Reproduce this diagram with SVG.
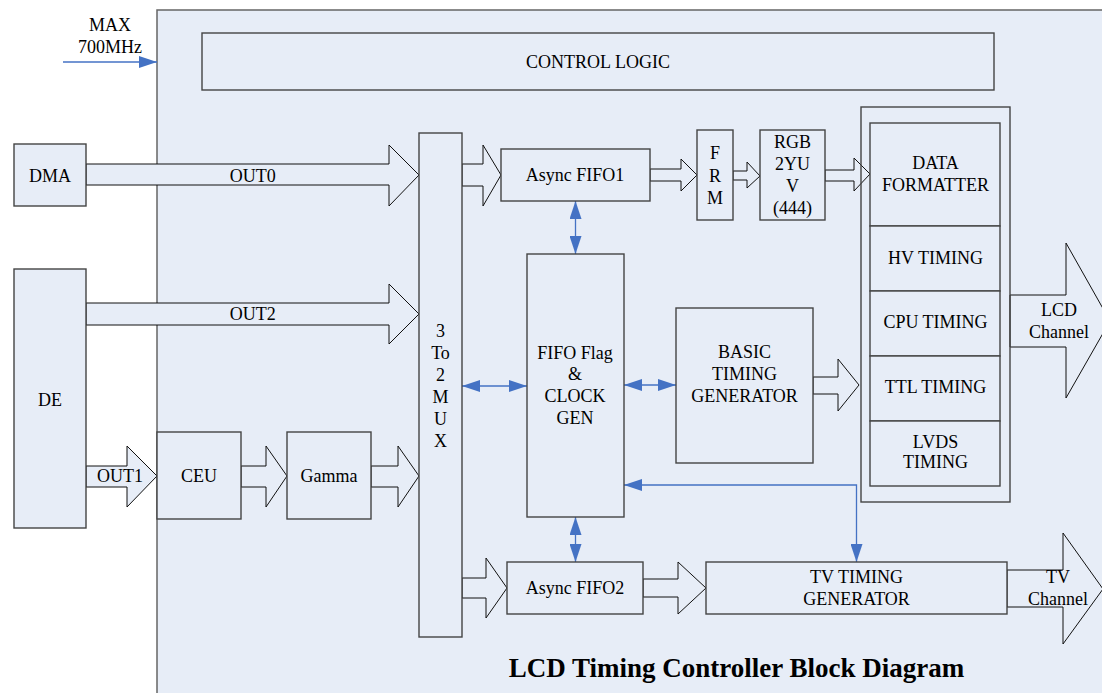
<svg xmlns="http://www.w3.org/2000/svg" width="1102" height="693" viewBox="0 0 1102 693">
<defs>
<style>
.bg{fill:#E7EDF7;stroke:#666;stroke-width:1.5}
.box{fill:#E7EDF7;stroke:#444;stroke-width:1.4}
.frame{fill:none;stroke:#444;stroke-width:1.4}
.ba{fill:#E7EDF7;stroke:#111;stroke-width:1}
.bl{fill:none;stroke:#4472C4;stroke-width:1.3}
text{font-family:"Liberation Serif","Times New Roman",serif;font-size:18px;fill:#000;text-anchor:middle}
.title{font-size:27px;font-weight:bold}
</style>
<marker id="ah" viewBox="0 0 18 12" markerUnits="userSpaceOnUse" markerWidth="18" markerHeight="12" refX="18" refY="6" orient="auto-start-reverse">
<path d="M0,0 L18,6 L0,12 z" fill="#4472C4"/>
</marker>
</defs>
<rect x="0" y="0" width="1102" height="693" fill="#fff"/>
<rect class="bg" x="157" y="10" width="960" height="700"/>

<g id="connectors">
<polygon class="ba" points="86,164 389,164 389,145 419,175 389,206 389,185 86,185"/>
<polygon class="ba" points="86,303 389,303 389,284 419,314 389,344 389,325 86,325"/>
<polygon class="ba" points="86,466 127,466 127,446 157,476 127,507 127,487 86,487"/>
<polygon class="ba" points="241,466 266,466 266,446 287,476 266,507 266,487 241,487"/>
<polygon class="ba" points="371,466 398,466 398,446 419,476 398,507 398,487 371,487"/>
<polygon class="ba" points="462,164 483,164 483,145 501,175 483,206 483,186 462,186"/>
<polygon class="ba" points="650,169 681,169 681,159 697,175 681,191 681,181 650,181"/>
<polygon class="ba" points="733,171 747,171 747,162 760,176 747,188 747,180 733,180"/>
<polygon class="ba" points="825,170 854,170 854,158 870,174 854,191 854,181 825,181"/>
<polygon class="ba" points="813,377 838,377 838,359 859,385 838,411 838,394 813,394"/>
<polygon class="ba" points="1010,295 1066,295 1066,243 1110,321 1066,398 1066,347 1010,347"/>
<polygon class="ba" points="462,578 486,578 486,558 507,588 486,618 486,598 462,598"/>
<polygon class="ba" points="643,579 678,579 678,562 706,588 678,614 678,597 643,597"/>
<polygon class="ba" points="1007,570 1063,570 1063,533 1103,589 1063,644 1063,607 1007,607"/>
<line class="bl" x1="63" y1="62" x2="157" y2="62" marker-end="url(#ah)"/>
<line class="bl" x1="462" y1="386" x2="527" y2="386" marker-start="url(#ah)" marker-end="url(#ah)"/>
<line class="bl" x1="575.5" y1="201" x2="575.5" y2="254" marker-start="url(#ah)" marker-end="url(#ah)"/>
<line class="bl" x1="624" y1="385" x2="676" y2="385" marker-start="url(#ah)" marker-end="url(#ah)"/>
<line class="bl" x1="575.5" y1="517" x2="575.5" y2="562" marker-start="url(#ah)" marker-end="url(#ah)"/>
<polyline class="bl" points="856.5,562 856.5,485 624,485" marker-start="url(#ah)" marker-end="url(#ah)"/>
<text x="252.7" y="181.5">OUT0</text>
<text x="252.7" y="320">OUT2</text>
<text x="120" y="482">OUT1</text>
<text x="1059" y="316">LCD</text>
<text x="1059" y="338">Channel</text>
<text x="1058" y="583">TV</text>
<text x="1058" y="605">Channel</text>
</g>

<g id="clock">
<text x="110" y="31">MAX</text>
<text x="110" y="53">700MHz</text>
</g>

<g id="control">
<rect class="box" x="202" y="33" width="792" height="57"/>
<text x="598" y="68">CONTROL LOGIC</text>
</g>

<g id="dma">
<rect class="box" x="14" y="144" width="72" height="62"/>
<text x="50" y="181.5">DMA</text>
</g>

<g id="de">
<rect class="box" x="14" y="269" width="72" height="259"/>
<text x="50" y="406">DE</text>
</g>

<g id="ceu">
<rect class="box" x="157" y="432" width="84" height="87"/>
<text x="199" y="482">CEU</text>
</g>

<g id="gamma">
<rect class="box" x="287" y="432" width="84" height="87"/>
<text x="329" y="482">Gamma</text>
</g>

<g id="mux">
<rect class="box" x="419" y="133" width="43" height="504"/>
<text x="440.5" y="336.5">3</text>
<text x="440.5" y="358.5">To</text>
<text x="440.5" y="380.5">2</text>
<text x="440.5" y="402.5">M</text>
<text x="440.5" y="424.5">U</text>
<text x="440.5" y="446.5">X</text>
</g>

<g id="fifo1">
<rect class="box" x="501" y="149" width="149" height="52"/>
<text x="575" y="180.5">Async FIFO1</text>
</g>

<g id="frm">
<rect class="box" x="697" y="130" width="36" height="90"/>
<text x="715" y="159">F</text>
<text x="715" y="181.5">R</text>
<text x="715" y="204">M</text>
</g>

<g id="rgb2yuv">
<rect class="box" x="760" y="130" width="65" height="90"/>
<text x="792.5" y="148">RGB</text>
<text x="792.5" y="170">2YU</text>
<text x="792.5" y="192">V</text>
<text x="792.5" y="214">(444)</text>
</g>

<g id="timing">
<rect class="box" x="870" y="123" width="130" height="103"/>
<text x="935.5" y="169.3">DATA</text>
<text x="935.5" y="191">FORMATTER</text>
<rect class="box" x="870" y="226" width="130" height="65"/>
<text x="935.5" y="263.7">HV TIMING</text>
<rect class="box" x="870" y="291" width="130" height="65"/>
<text x="935.5" y="328.3">CPU TIMING</text>
<rect class="box" x="870" y="356" width="130" height="65"/>
<text x="935.5" y="392.7">TTL TIMING</text>
<rect class="box" x="870" y="421" width="130" height="65"/>
<text x="935.5" y="447.7">LVDS</text>
<text x="935.5" y="468.3">TIMING</text>
<rect class="frame" x="861" y="107" width="149" height="395"/>
</g>

<g id="fifoflag">
<rect class="box" x="527" y="254" width="97" height="263"/>
<text x="575" y="358.7">FIFO Flag</text>
<text x="575" y="380.3">&amp;</text>
<text x="575" y="402">CLOCK</text>
<text x="575" y="424.3">GEN</text>
</g>

<g id="basic">
<rect class="box" x="676" y="308" width="137" height="155"/>
<text x="744.5" y="358.3">BASIC</text>
<text x="744.5" y="380">TIMING</text>
<text x="744.5" y="401.7">GENERATOR</text>
</g>

<g id="fifo2">
<rect class="box" x="507" y="562" width="136" height="52"/>
<text x="575" y="594.3">Async FIFO2</text>
</g>

<g id="tvtiming">
<rect class="box" x="706" y="562" width="301" height="52"/>
<text x="856.5" y="583.3">TV TIMING</text>
<text x="856.5" y="605">GENERATOR</text>
</g>

<g id="title">
<text class="title" x="736.5" y="676.7">LCD Timing Controller Block Diagram</text>
</g>
</svg>
